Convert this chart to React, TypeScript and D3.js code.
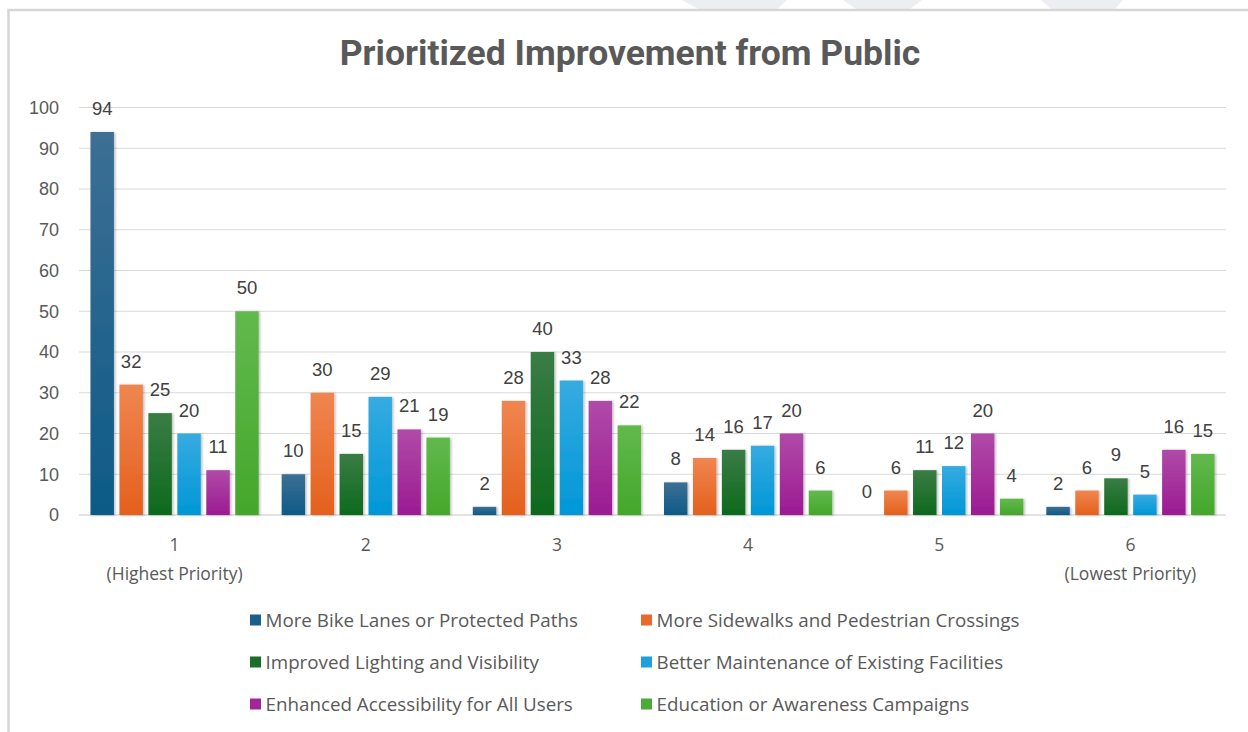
import React from "react";
import * as d3 from "d3";

const categories = ["1", "2", "3", "4", "5", "6"];
const categorySub = ["(Highest Priority)", "", "", "", "", "(Lowest Priority)"];
const seriesNames = [
  "More Bike Lanes or Protected Paths",
  "More Sidewalks and Pedestrian Crossings",
  "Improved Lighting and Visibility",
  "Better Maintenance of Existing Facilities",
  "Enhanced Accessibility for All Users",
  "Education or Awareness Campaigns",
];
const bikeLanes = [94, 10, 2, 8, 0, 2];
const sidewalks = [32, 30, 28, 14, 6, 6];
const lighting = [25, 15, 40, 16, 11, 9];
const maintenance = [20, 29, 33, 17, 12, 5];
const accessibility = [11, 21, 28, 20, 20, 16];
const education = [50, 19, 22, 6, 4, 15];
const seriesValues = [bikeLanes, sidewalks, lighting, maintenance, accessibility, education];
const yTicks = [0, 10, 20, 30, 40, 50, 60, 70, 80, 90, 100];

const colorsTop = ["#3d6f94", "#ef8650", "#3a7c45", "#36abe0", "#b04aa8", "#62b94d"];
const colorsBottom = ["#0d5a87", "#e4601c", "#0d6a1d", "#0097d7", "#9b1b92", "#44a72a"];
const legendColors = ["#1a5f8a", "#e8692a", "#1b6e2a", "#1ea0dc", "#a0279a", "#4caa36"];

export default function App() {
  const W = 1248;
  const H = 732;
  const left = 79;
  const right = 1226;
  const y = d3.scaleLinear().domain([0, 100]).range([515, 107.5]);
  const x0 = d3.scaleBand<string>().domain(categories).range([left, right]).paddingInner(0.12).paddingOuter(0.06);
  const x1 = d3.scaleBand<string>().domain(seriesNames).range([0, x0.bandwidth()]).paddingInner(0.19).paddingOuter(0);

  const numFont = "'Liberation Sans', Arial, sans-serif";
  const textFont = "'Open Sans', 'Noto Sans', sans-serif";

  return (
    <svg width={W} height={H} style={{ position: "absolute", left: 0, top: 0, background: "#fff" }}>
      <defs>
        {seriesNames.map((_, i) => (
          <linearGradient key={i} id={`g${i}`} x1="0" y1="0" x2="0" y2="1">
            <stop offset="0%" stopColor={colorsTop[i]} />
            <stop offset="100%" stopColor={colorsBottom[i]} />
          </linearGradient>
        ))}
        <filter id="sh" x="-20%" y="-5%" width="150%" height="115%">
          <feDropShadow dx="1.5" dy="0.5" stdDeviation="1.2" floodColor="#000" floodOpacity="0.25" />
        </filter>
      </defs>
      {/* watermark shapes above frame */}
      <polygon points="682,0 787,0 777,9 698,9" fill="#eceef1" />
      <polygon points="843,0 922,0 910,9 856,9" fill="#eceef1" />
      <polygon points="1041,0 1123,0 1115,9 1051,9" fill="#eceef1" />
      {/* frame */}
      <path d={`M8.5,${H} V10 H${W}`} fill="none" stroke="#d6d6d6" strokeWidth={2.5} />

      <text x={630} y={65} textAnchor="middle" fontFamily="Roboto, 'Liberation Sans', sans-serif" fontWeight={700} fontSize={35.5} fill="#595959">
        Prioritized Improvement from Public
      </text>

      {/* gridlines */}
      {yTicks.map((t) => (
        <line key={t} x1={left} x2={right} y1={y(t)} y2={y(t)} stroke="#d9d9d9" strokeWidth={t === 0 ? 1.5 : 1.2} />
      ))}
      {yTicks.map((t) => (
        <text key={t} x={59} y={y(t)} dy="0.36em" textAnchor="end" fontFamily={numFont} fontSize={18} fill="#595959">
          {t}
        </text>
      ))}

      {/* bars */}
      {categories.map((c, ci) => (
        <g key={c} transform={`translate(${x0(c)},0)`}>
          {seriesNames.map((s, si) => {
            const v = seriesValues[si][ci];
            const bx = x1(s)!;
            return (
              <g key={s}>
                {v > 0 && (
                  <rect x={bx} y={y(v)} width={x1.bandwidth()} height={y(0) - y(v)} fill={`url(#g${si})`} filter="url(#sh)" />
                )}
                <text x={bx + x1.bandwidth() / 2} y={y(v) - 17} textAnchor="middle" fontFamily={numFont} fontSize={18.5} fill="#404040">
                  {v}
                </text>
              </g>
            );
          })}
        </g>
      ))}

      {/* x labels */}
      {categories.map((c, ci) => (
        <g key={c}>
          <text x={x0(c)! + x0.bandwidth() / 2} y={551} textAnchor="middle" fontFamily={textFont} fontSize={17.5} fill="#595959">
            {c}
          </text>
          {categorySub[ci] && (
            <text x={x0(c)! + x0.bandwidth() / 2} y={580} textAnchor="middle" fontFamily={textFont} fontSize={17.5} fill="#595959">
              {categorySub[ci]}
            </text>
          )}
        </g>
      ))}

      {/* legend */}
      {seriesNames.map((s, i) => {
        const col = i % 2;
        const row = Math.floor(i / 2);
        const lx = col === 0 ? 250 : 641;
        const ly = 620 + row * 42;
        return (
          <g key={s}>
            <rect x={lx} y={ly - 5.5} width={11} height={11} fill={legendColors[i]} />
            <text x={lx + 15.5} y={ly} dy="0.36em" fontFamily={textFont} fontSize={18.8} fill="#595959">
              {s}
            </text>
          </g>
        );
      })}
    </svg>
  );
}
